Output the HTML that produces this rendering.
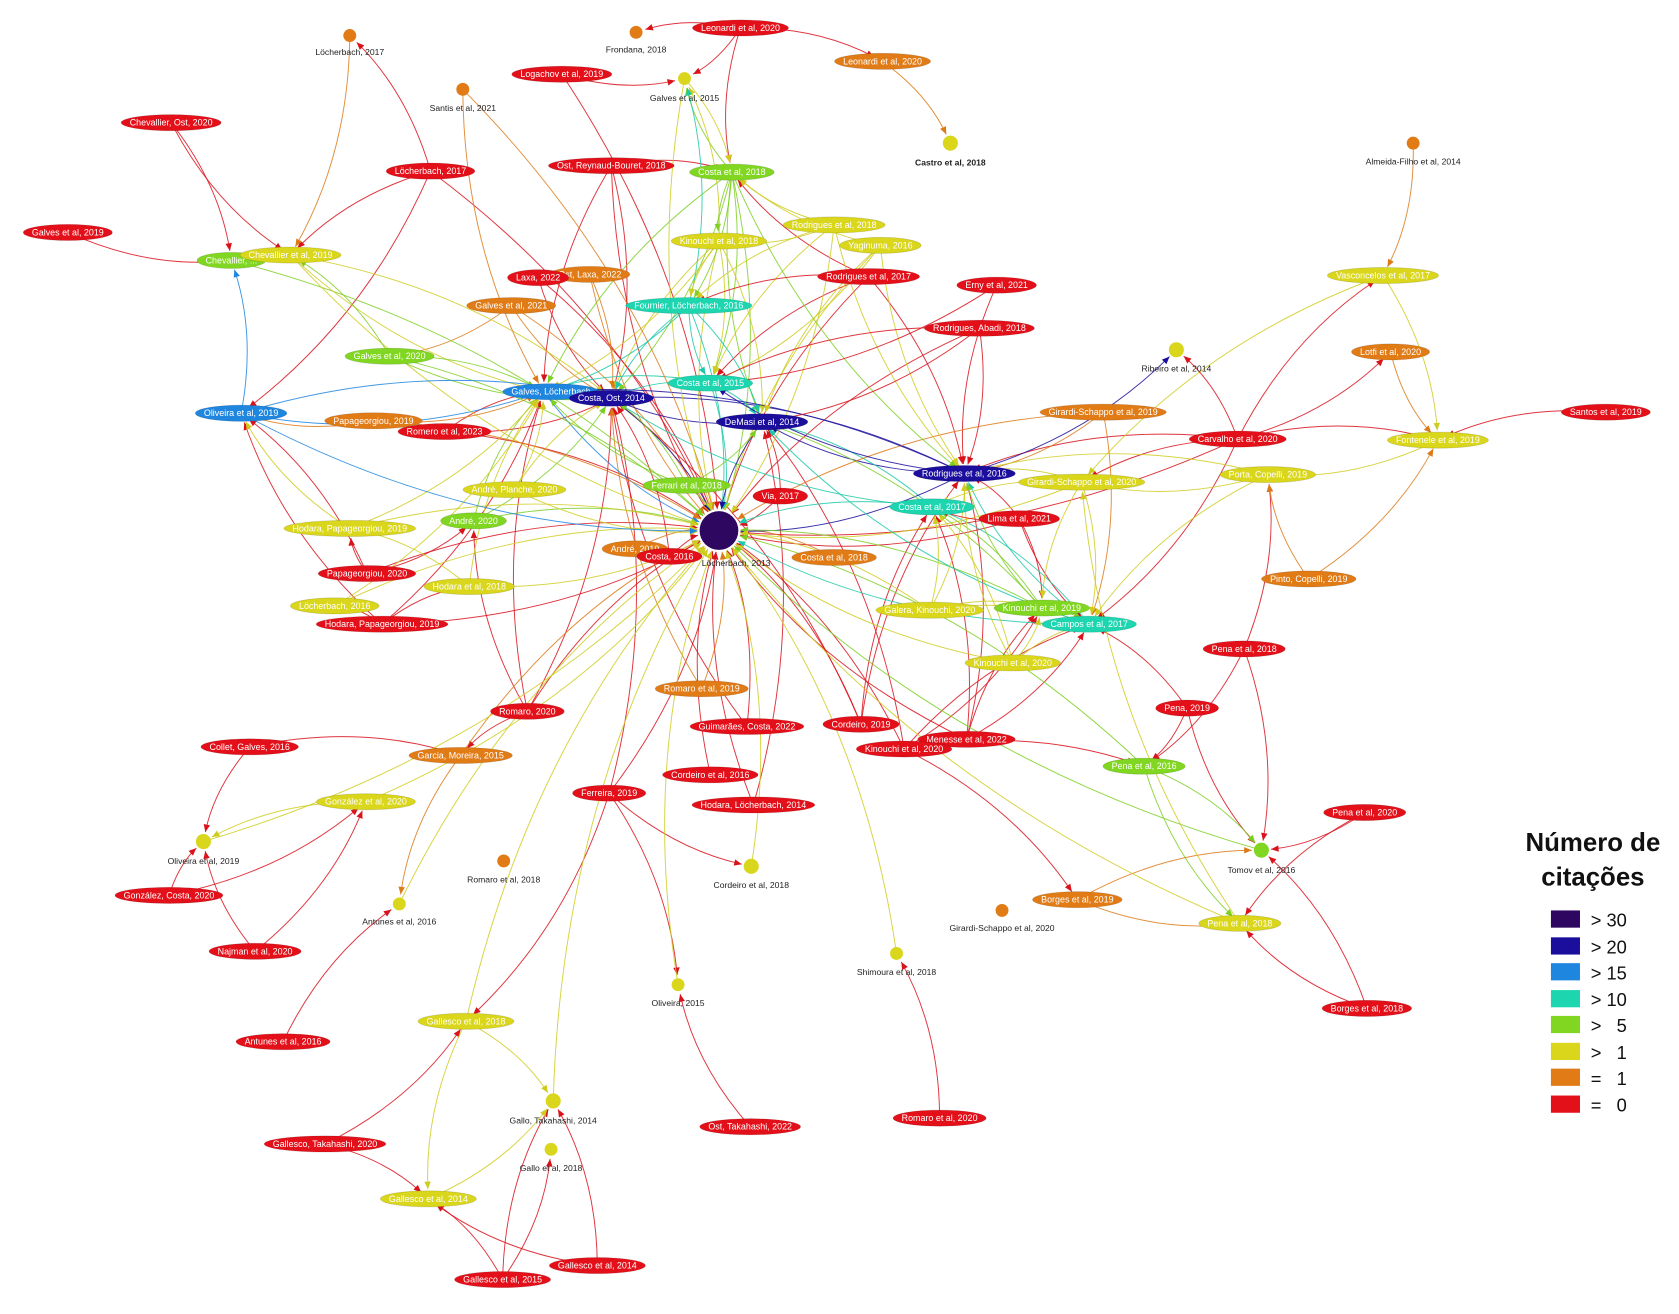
<!DOCTYPE html>
<html><head><meta charset="utf-8"><style>
html,body{margin:0;padding:0;background:#fff}
svg{display:block}
.n{font-family:"Liberation Sans",sans-serif;font-size:8.3px;fill:#fff;text-anchor:middle;dominant-baseline:central}
.d{font-family:"Liberation Sans",sans-serif;font-size:8px;fill:#222;text-anchor:middle}
.lg{font-family:"Liberation Sans",sans-serif;fill:#111}
</style></head><body>
<svg id="S" width="1679" height="1314" viewBox="0 0 1560 1221" preserveAspectRatio="none" xmlns="http://www.w3.org/2000/svg">
<rect width="1560" height="1221" fill="#fff"/>
<g id="E" fill="none" stroke-width="0.9"></g>
<g id="D">
<circle cx="325" cy="33" r="6" fill="#e07b16"/><text class="d" x="325" y="51">Löcherbach, 2017</text>
<circle cx="591" cy="30" r="6" fill="#e07b16"/><text class="d" x="591" y="49">Frondana, 2018</text>
<circle cx="636" cy="73" r="6" fill="#d9d61c"/><text class="d" x="636" y="94">Galves et al, 2015</text>
<circle cx="430" cy="83" r="6" fill="#e07b16"/><text class="d" x="430" y="103">Santis et al, 2021</text>
<circle cx="883" cy="133" r="7" fill="#d9d61c"/><text class="d" x="883" y="154" font-weight="bold">Castro et al, 2018</text>
<circle cx="1313" cy="133" r="6" fill="#e07b16"/><text class="d" x="1313" y="153">Almeida-Filho et al, 2014</text>
<circle cx="1093" cy="325" r="7" fill="#d9d61c"/><text class="d" x="1093" y="345">Ribeiro et al, 2014</text>
<circle cx="668" cy="493" r="18" fill="#2d0760"/><text class="d" x="684" y="526">Löcherbach, 2013</text>
<circle cx="189" cy="782" r="7" fill="#d9d61c"/><text class="d" x="189" y="803">Oliveira et al, 2019</text>
<circle cx="1172" cy="790" r="7" fill="#80d621"/><text class="d" x="1172" y="811">Tomov et al, 2016</text>
<circle cx="468" cy="800" r="6" fill="#e07b16"/><text class="d" x="468" y="820">Romaro et al, 2018</text>
<circle cx="698" cy="805" r="7" fill="#d9d61c"/><text class="d" x="698" y="825">Cordeiro et al, 2018</text>
<circle cx="371" cy="840" r="6" fill="#d9d61c"/><text class="d" x="371" y="859">Antunes et al, 2016</text>
<circle cx="931" cy="846" r="6" fill="#e07b16"/><text class="d" x="931" y="865">Girardi-Schappo et al, 2020</text>
<circle cx="833" cy="886" r="6" fill="#d9d61c"/><text class="d" x="833" y="906">Shimoura et al, 2018</text>
<circle cx="630" cy="915" r="6" fill="#d9d61c"/><text class="d" x="630" y="935">Oliveira, 2015</text>
<circle cx="514" cy="1023" r="7" fill="#d9d61c"/><text class="d" x="514" y="1044">Gallo, Takahashi, 2014</text>
<circle cx="512" cy="1068" r="6" fill="#d9d61c"/><text class="d" x="512" y="1088">Gallo et al, 2018</text>
</g>
<g id="N">
<text class="n" data-c="#e3101a" x="688" y="26">Leonardi et al, 2020</text>
<text class="n" data-c="#e07b16" x="820" y="57">Leonardi et al, 2020</text>
<text class="n" data-c="#e3101a" x="522" y="69">Logachov et al, 2019</text>
<text class="n" data-c="#e3101a" x="159" y="114">Chevallier, Ost, 2020</text>
<text class="n" data-c="#e3101a" x="400" y="159">Löcherbach, 2017</text>
<text class="n" data-c="#e3101a" x="568" y="154">Ost, Reynaud-Bouret, 2018</text>
<text class="n" data-c="#80d621" x="680" y="160">Costa et al, 2018</text>
<text class="n" data-c="#e3101a" x="63" y="216">Galves et al, 2019</text>
<text class="n" data-c="#80d621" x="215" y="242">Chevallier, ...</text>
<text class="n" data-c="#d9d61c" x="270" y="237">Chevallier et al, 2019</text>
<text class="n" data-c="#d9d61c" x="668" y="224">Kinouchi et al, 2018</text>
<text class="n" data-c="#d9d61c" x="775" y="209">Rodrigues et al, 2018</text>
<text class="n" data-c="#d9d61c" x="818" y="228">Yaginuma, 2016</text>
<text class="n" data-c="#e07b16" x="548" y="255">Ost, Laxa, 2022</text>
<text class="n" data-c="#e3101a" x="500" y="258">Laxa, 2022</text>
<text class="n" data-c="#e07b16" x="475" y="284">Galves et al, 2021</text>
<text class="n" data-c="#1dd6b0" x="640" y="284">Fournier, Löcherbach, 2016</text>
<text class="n" data-c="#e3101a" x="807" y="257">Rodrigues et al, 2017</text>
<text class="n" data-c="#e3101a" x="926" y="265">Erny et al, 2021</text>
<text class="n" data-c="#e3101a" x="910" y="305">Rodrigues, Abadi, 2018</text>
<text class="n" data-c="#d9d61c" x="1285" y="256">Vasconcelos et al, 2017</text>
<text class="n" data-c="#e07b16" x="1292" y="327">Lotfi et al, 2020</text>
<text class="n" data-c="#80d621" x="362" y="331">Galves et al, 2020</text>
<text class="n" data-c="#1f86df" x="512" y="364">Galves, Löcherbach</text>
<text class="n" data-c="#1b0e9c" x="568" y="370">Costa, Ost, 2014</text>
<text class="n" data-c="#1dd6b0" x="660" y="356">Costa et al, 2015</text>
<text class="n" data-c="#1b0e9c" x="708" y="392">DeMasi et al, 2014</text>
<text class="n" data-c="#1f86df" x="224" y="384">Oliveira et al, 2019</text>
<text class="n" data-c="#e07b16" x="347" y="391">Papageorgiou, 2019</text>
<text class="n" data-c="#e3101a" x="413" y="401">Romero et al, 2023</text>
<text class="n" data-c="#e07b16" x="1025" y="383">Girardi-Schappo et al, 2019</text>
<text class="n" data-c="#e3101a" x="1150" y="408">Carvalho et al, 2020</text>
<text class="n" data-c="#e3101a" x="1492" y="383">Santos et al, 2019</text>
<text class="n" data-c="#d9d61c" x="1336" y="409">Fontenele et al, 2019</text>
<text class="n" data-c="#1b0e9c" x="896" y="440">Rodrigues et al, 2016</text>
<text class="n" data-c="#d9d61c" x="1005" y="448">Girardi-Schappo et al, 2020</text>
<text class="n" data-c="#1dd6b0" x="866" y="471">Costa et al, 2017</text>
<text class="n" data-c="#d9d61c" x="1178" y="441">Porta, Copelli, 2019</text>
<text class="n" data-c="#80d621" x="638" y="451">Ferrari et al, 2018</text>
<text class="n" data-c="#e3101a" x="725" y="461">Via, 2017</text>
<text class="n" data-c="#d9d61c" x="478" y="455">André, Planche, 2020</text>
<text class="n" data-c="#80d621" x="440" y="484">André, 2020</text>
<text class="n" data-c="#d9d61c" x="325" y="491">Hodara, Papageorgiou, 2019</text>
<text class="n" data-c="#e3101a" x="947" y="482">Lima et al, 2021</text>
<text class="n" data-c="#e07b16" x="590" y="510">André, 2019</text>
<text class="n" data-c="#e3101a" x="622" y="517">Costa, 2016</text>
<text class="n" data-c="#e07b16" x="775" y="518">Costa et al, 2018</text>
<text class="n" data-c="#e3101a" x="341" y="533">Papageorgiou, 2020</text>
<text class="n" data-c="#d9d61c" x="436" y="545">Hodara et al, 2018</text>
<text class="n" data-c="#d9d61c" x="311" y="563">Löcherbach, 2016</text>
<text class="n" data-c="#e3101a" x="355" y="580">Hodara, Papageorgiou, 2019</text>
<text class="n" data-c="#e07b16" x="1216" y="538">Pinto, Copelli, 2019</text>
<text class="n" data-c="#d9d61c" x="864" y="567">Galera, Kinouchi, 2020</text>
<text class="n" data-c="#80d621" x="968" y="565">Kinouchi et al, 2019</text>
<text class="n" data-c="#1dd6b0" x="1012" y="580">Campos et al, 2017</text>
<text class="n" data-c="#e3101a" x="1156" y="603">Pena et al, 2018</text>
<text class="n" data-c="#d9d61c" x="941" y="616">Kinouchi et al, 2020</text>
<text class="n" data-c="#e07b16" x="652" y="640">Romaro et al, 2019</text>
<text class="n" data-c="#e3101a" x="1103" y="658">Pena, 2019</text>
<text class="n" data-c="#e3101a" x="490" y="661">Romaro, 2020</text>
<text class="n" data-c="#e3101a" x="694" y="675">Guimarães, Costa, 2022</text>
<text class="n" data-c="#e3101a" x="800" y="673">Cordeiro, 2019</text>
<text class="n" data-c="#e3101a" x="898" y="687">Menesse et al, 2022</text>
<text class="n" data-c="#e3101a" x="840" y="696">Kinouchi et al, 2020</text>
<text class="n" data-c="#e3101a" x="232" y="694">Collet, Galves, 2016</text>
<text class="n" data-c="#e07b16" x="428" y="702">Garcia, Moreira, 2015</text>
<text class="n" data-c="#80d621" x="1063" y="712">Pena et al, 2016</text>
<text class="n" data-c="#e3101a" x="660" y="720">Cordeiro et al, 2016</text>
<text class="n" data-c="#d9d61c" x="340" y="745">González et al, 2020</text>
<text class="n" data-c="#e3101a" x="566" y="737">Ferreira, 2019</text>
<text class="n" data-c="#e3101a" x="700" y="748">Hodara, Löcherbach, 2014</text>
<text class="n" data-c="#e3101a" x="1268" y="755">Pena et al, 2020</text>
<text class="n" data-c="#e3101a" x="157" y="832">González, Costa, 2020</text>
<text class="n" data-c="#e07b16" x="1001" y="836">Borges et al, 2019</text>
<text class="n" data-c="#d9d61c" x="1152" y="858">Pena et al, 2018</text>
<text class="n" data-c="#e3101a" x="237" y="884">Najman et al, 2020</text>
<text class="n" data-c="#e3101a" x="1270" y="937">Borges et al, 2018</text>
<text class="n" data-c="#d9d61c" x="433" y="949">Gallesco et al, 2018</text>
<text class="n" data-c="#e3101a" x="263" y="968">Antunes et al, 2016</text>
<text class="n" data-c="#e3101a" x="873" y="1039">Romaro et al, 2020</text>
<text class="n" data-c="#e3101a" x="697" y="1047">Ost, Takahashi, 2022</text>
<text class="n" data-c="#e3101a" x="302" y="1063">Gallesco, Takahashi, 2020</text>
<text class="n" data-c="#d9d61c" x="398" y="1114">Gallesco et al, 2014</text>
<text class="n" data-c="#e3101a" x="555" y="1176">Gallesco et al, 2014</text>
<text class="n" data-c="#e3101a" x="467" y="1189">Gallesco et al, 2015</text>
</g>
<g id="L">
<text class="lg" x="1480" y="791" font-size="24" font-weight="bold" text-anchor="middle">Número de</text>
<text class="lg" x="1480" y="823" font-size="24" font-weight="bold" text-anchor="middle">citações</text>
<rect x="1441" y="846" width="27" height="16" fill="#2d0760"/><text class="lg" x="1478" y="861" font-size="17">&gt; 30</text>
<rect x="1441" y="871" width="27" height="16" fill="#1b0e9c"/><text class="lg" x="1478" y="886" font-size="17">&gt; 20</text>
<rect x="1441" y="895" width="27" height="16" fill="#1f86df"/><text class="lg" x="1478" y="910" font-size="17">&gt; 15</text>
<rect x="1441" y="920" width="27" height="16" fill="#1dd6b0"/><text class="lg" x="1478" y="935" font-size="17">&gt; 10</text>
<rect x="1441" y="944" width="27" height="16" fill="#80d621"/><text class="lg" x="1478" y="959" font-size="17">&gt;&#160;&#160; 5</text>
<rect x="1441" y="969" width="27" height="16" fill="#d9d61c"/><text class="lg" x="1478" y="984" font-size="17">&gt;&#160;&#160; 1</text>
<rect x="1441" y="993" width="27" height="16" fill="#e07b16"/><text class="lg" x="1478" y="1008" font-size="17">=&#160;&#160; 1</text>
<rect x="1441" y="1018" width="27" height="16" fill="#e3101a"/><text class="lg" x="1478" y="1033" font-size="17">=&#160;&#160; 0</text>
</g>
</svg>
<script>
(function(){
var NS="http://www.w3.org/2000/svg";
var C={r:"#d9121c",o:"#dd7a18",y:"#cfcc20",g:"#7ccf22",t:"#1cc9a8",b:"#1f86df",n:"#1b0e9c"};
var N={L13:[668,493],CO14:[568,370],GL:[505,364],DM:[708,392],C15:[660,356],FL:[640,284],R16:[896,440],C18g:[680,160],K18:[668,224],C17:[866,471],CA17:[1012,580],K19:[968,565],G15:[636,73],GS20:[1005,448],GS19:[1025,383],FE18:[638,451],OL19:[224,384],CH19:[270,237],CHg:[215,242],G20:[362,331],AND:[440,484],ANP:[478,455],HP19y:[325,491],HO18:[436,545],LO16:[311,563],PA19:[347,391],GE21:[475,284],LAX:[548,255],LAXr:[500,258],RO18:[775,209],YA:[818,228],GK20:[864,567],K20y:[941,616],CARV:[1150,408],PC19:[1178,441],FON:[1336,409],VAS:[1285,256],LOT:[1292,327],TOM:[1172,790],P18g:[1063,712],P18y:[1152,858],P18r:[1156,603],PE19:[1103,658],PE20:[1268,755],B19:[1001,836],B18:[1270,937],PIN:[1216,538],SAN:[1492,383],ALM:[1313,133],RIB:[1093,325],ERN:[926,265],RA18:[910,305],RO17:[807,257],VIA:[725,461],LIMA:[947,482],C16:[622,517],ANDo:[590,510],C18o:[775,518],RO19:[652,640],RO20:[490,661],GUI:[694,675],COR19:[800,673],MEN:[898,687],K20r:[840,696],COL:[232,694],GM15:[428,702],CE16:[660,720],GON:[340,745],FER:[566,737],HL14:[700,748],GOC:[157,832],NAJ:[237,884],OLI:[189,782],RO18d:[468,800],CE18:[698,805],ANTy:[371,840],ANTr:[263,968],GSd:[931,846],SHI:[833,886],OLV15:[630,915],GA18:[433,949],GT14:[514,1023],GAL18:[512,1068],GT20:[302,1063],GA14y:[398,1114],GA14r:[555,1176],GA15:[467,1189],RO20b:[873,1039],OST:[697,1047],LOC17d:[325,33],FRO:[591,30],SNT:[430,83],CAS:[883,133],LEO:[688,26],LEOo:[820,57],LOG:[522,69],CHO:[159,114],LOC17:[400,159],ORB:[568,154],GV19:[63,216],RO23:[413,401],PA20:[341,533],HP19r:[355,580]};
var E="LOC17>L13 r,LOC17>CH19 r,LOC17>OL19 r,LOC17>LOC17d r,LOG>L13 r,LOG>G15 r,LEO>G15 r,LEO>C18g r,LEO>LEOo r,LEO>FRO r,LEOo>CAS o,ORB>L13 r,ORB>CO14 r,ORB>GL r,ORB>C18g r,CHO>CH19 r,CHO>CHg r,GV19>CHg r,LAXr>L13 r,LAXr>CO14 r,LAX>CO14 o,LAX>L13 o,GE21>L13 o,GE21>CO14 o,GE21>G20 o,RO17>L13 r,RO17>R16 r,RO17>C15 r,RO17>C18g r,ERN>R16 r,RA18>R16 r,RA18>L13 r,RO23>L13 r,RO23>CO14 r,RO23>GL r,PA20>OL19 r,PA20>L13 r,PA20>AND r,PA20>HP19y r,HP19r>L13 r,HP19r>HO18 r,HP19r>LO16 r,HP19r>OL19 r,HP19r>GL r,LIMA>L13 r,LIMA>R16 r,LIMA>K19 r,LIMA>CA17 r,VIA>L13 r,VIA>DM r,C16>L13 r,C16>CO14 r,P18r>TOM r,P18r>PC19 r,P18r>P18g r,PE19>TOM r,PE19>P18g r,PE19>CA17 r,RO20>L13 r,RO20>GM15 r,RO20>AND r,RO20>CO14 r,RO20>GL r,GUI>L13 r,GUI>CO14 r,COR19>L13 r,COR19>C17 r,COR19>CO14 r,COR19>R16 r,MEN>CA17 r,MEN>K19 r,MEN>C17 r,MEN>L13 r,MEN>R16 r,K20r>P18g r,K20r>K19 r,K20r>CA17 r,K20r>L13 r,K20r>B19 r,K20r>DM r,COL>GM15 r,COL>OLI r,CE16>L13 r,FER>L13 r,FER>GA18 r,FER>CE18 r,FER>OLV15 r,FER>CO14 r,HL14>L13 r,HL14>DM r,PE20>TOM r,PE20>P18y r,GOC>OLI r,GOC>GON r,NAJ>OLI r,NAJ>GON r,B18>P18y r,B18>TOM r,ANTr>ANTy r,RO20b>SHI r,OST>OLV15 r,GT20>GA18 r,GT20>GA14y r,GA14r>GT14 r,GA14r>GA14y r,GA15>GA14y r,GA15>GT14 r,GA15>GAL18 r,CARV>VAS r,CARV>LOT r,CARV>FON r,CARV>R16 r,CARV>L13 r,CARV>GS20 r,CARV>CA17 r,SAN>FON r,ALM>VAS o,R16>RIB n,R16>DM n,R16>CO14 n,DM>CO14 n,C17>DM t,C17>CO14 t,OL19>CHg b,GL>OL19 b,GM15>ANTy o,GM15>L13 o,GON>OLI y,P18g>TOM g,P18g>P18y g,B19>TOM o,B19>P18y o,FON>PC19 y,PIN>FON o,PIN>PC19 o,LOT>FON o,VAS>FON y,VAS>GS20 y,GS19>R16 o,GS19>L13 o,GS19>CA17 o,C18o>L13 o,ANDo>L13 o,RO19>L13 o,RO19>CO14 o,CE18>L13 y,GA18>GT14 y,GA18>GA14y y,GT14>L13 y,GA14y>GT14 y,OLV15>L13 y,SHI>L13 y,ANTy>L13 y,OLI>L13 y,C18g>L13 g,C18g>K18 g,C18g>CO14 g,C18g>DM g,C18g>C15 g,C18g>GL g,C18g>G15 g,K18>L13 y,K18>C15 y,K18>CO14 y,K18>DM y,K18>G15 y,RO18>L13 y,RO18>C15 y,RO18>C18g y,RO18>R16 y,YA>C15 y,YA>L13 y,YA>C18g y,YA>R16 y,FL>L13 t,FL>CO14 t,FL>GL t,FL>G15 t,C15>L13 t,C15>CO14 t,C15>DM t,GL>L13 b,CO14>L13 n,DM>L13 n,R16>L13 n,C17>L13 t,CA17>L13 t,CA17>C17 t,CA17>R16 t,K19>L13 g,K19>R16 g,K19>C17 g,K19>CA17 g,GK20>L13 y,GK20>K19 y,GK20>C17 y,GK20>CA17 y,K20y>K19 y,K20y>CA17 y,K20y>C17 y,K20y>L13 y,GS20>R16 y,GS20>L13 y,GS20>K19 y,GS20>CA17 y,PC19>R16 y,PC19>GS20 y,PC19>CA17 y,FE18>L13 g,FE18>CO14 g,FE18>GL g,FE18>DM g,CHg>L13 g,CH19>L13 y,CH19>CO14 y,CH19>GL y,G20>L13 g,G20>CO14 g,G20>GL g,G20>CH19 g,AND>L13 g,AND>CO14 g,AND>GL g,ANP>L13 y,ANP>CO14 y,ANP>GL y,HP19y>L13 y,HP19y>GL y,HP19y>OL19 y,HO18>L13 y,HO18>GL y,HO18>HP19y y,LO16>L13 y,LO16>GL y,PA19>L13 o,PA19>GL o,PA19>OL19 o,OL19>L13 b,OL19>CO14 b,CH19>CHg y,TOM>L13 g,P18g>L13 g,P18y>L13 y,GON>L13 y,GA18>L13 y,FL>C15 t,FL>DM t,C15>GL t,R16>C15 n,R16>GL n,GL>CO14 b,C18g>R16 g,C18g>FL g,K18>FL y,K18>GL y,YA>DM y,RO18>K18 y,RO18>FL y,SNT>L13 o,SNT>GL o,LOC17d>CH19 o,G15>L13 y,G15>C18g y,K19>DM g,CA17>DM t,GK20>R16 y,K20y>R16 y,GS20>C17 y,LIMA>C17 r,CARV>RIB r,P18y>GS20 y,RO17>FL r,ERN>C15 r,RA18>C15 r,RA18>DM r".split(",");
var G=document.getElementById("E");
function el(t,a){var e=document.createElementNS(NS,t);for(var k in a)e.setAttribute(k,a[k]);G.appendChild(e);return e;}
E.forEach(function(s,i){
 var p=s.split(" "),ab=p[0].split(">"),a=N[ab[0]],b=N[ab[1]];if(!a||!b)return;
 var col=C[p[1]];
 var dx=b[0]-a[0],dy=b[1]-a[1],L=Math.sqrt(dx*dx+dy*dy);if(L<1)return;
 var sg=(i%2?1:-1)*0.13;
 var cx=(a[0]+b[0])/2-dy*sg,cy=(a[1]+b[1])/2+dx*sg;
 var r=ab[1]=="L13"?20:9;
 var tx=b[0]-cx,ty=b[1]-cy,tl=Math.sqrt(tx*tx+ty*ty);tx/=tl;ty/=tl;
 var ex=b[0]-tx*r,ey=b[1]-ty*r;
 el("path",{d:"M"+a[0]+" "+a[1]+" Q"+cx+" "+cy+" "+ex+" "+ey,stroke:col,"stroke-opacity":"0.85"});
 var bx=ex-tx*7,by=ey-ty*7,nx=-ty*3,ny=tx*3;
 el("polygon",{points:ex+","+ey+" "+(bx+nx)+","+(by+ny)+" "+(bx-nx)+","+(by-ny),fill:col,stroke:"none"});
});
var T=document.querySelectorAll("#N text");
var NG=document.getElementById("N");
T.forEach(function(t){
 var w=t.getComputedTextLength();
 var e=document.createElementNS(NS,"ellipse");
 e.setAttribute("cx",t.getAttribute("x"));e.setAttribute("cy",t.getAttribute("y"));
 e.setAttribute("rx",w/2+8);e.setAttribute("ry",7.5);
 e.setAttribute("fill",t.getAttribute("data-c"));
 e.setAttribute("stroke","rgba(0,0,0,0.12)");e.setAttribute("stroke-width","0.8");
 NG.insertBefore(e,t);
});
})();
</script>
</body></html>
